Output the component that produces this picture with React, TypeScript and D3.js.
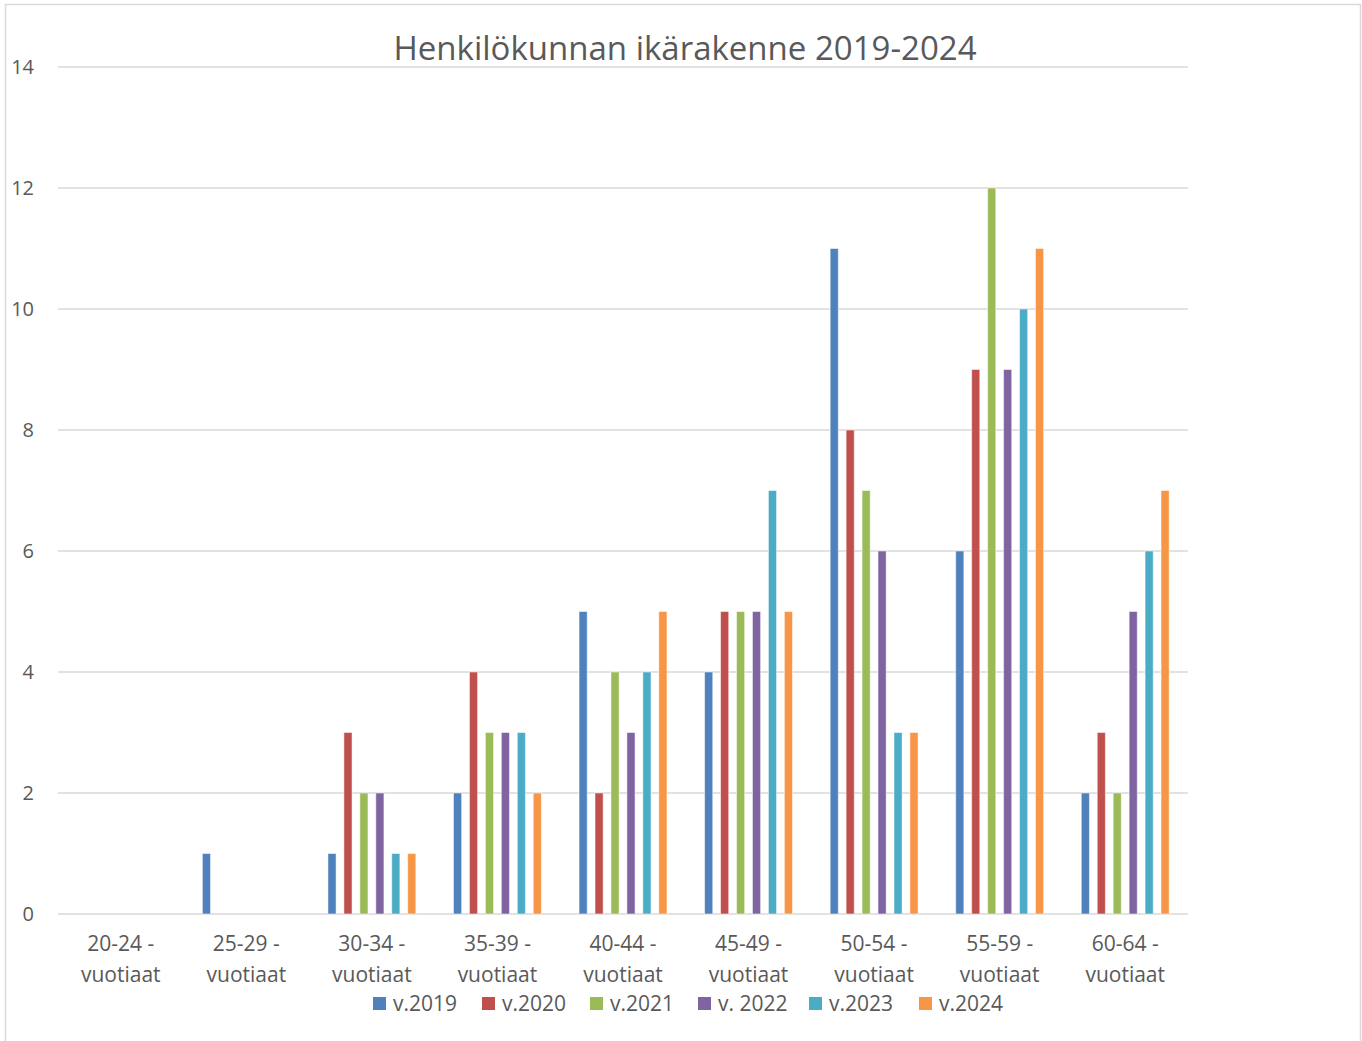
import React from 'react';
import * as d3 from 'd3';

const categories = ['20-24', '25-29', '30-34', '35-39', '40-44', '45-49', '50-54', '55-59', '60-64'];
const seriesNames = ['v.2019', 'v.2020', 'v.2021', 'v. 2022', 'v.2023', 'v.2024'];
const colors = ['#4F81BD', '#C0504D', '#9BBB59', '#8064A2', '#4BACC6', '#F79646'];

const v2019 = [0, 1, 1, 2, 5, 4, 11, 6, 2];
const v2020 = [0, 0, 3, 4, 2, 5, 8, 9, 3];
const v2021 = [0, 0, 2, 3, 4, 5, 7, 12, 2];
const v2022 = [0, 0, 2, 3, 3, 5, 6, 9, 5];
const v2023 = [0, 0, 1, 3, 4, 7, 3, 10, 6];
const v2024 = [0, 0, 1, 2, 5, 5, 3, 11, 7];
const seriesValues = [v2019, v2020, v2021, v2022, v2023, v2024];

const yTicks = [0, 2, 4, 6, 8, 10, 12, 14];

const W = 1362;
const H = 1041;
const font = '"Open Sans", sans-serif';

export default function App() {
  const x0 = d3.scaleBand<string>().domain(categories).range([58, 1188]).paddingInner(0.3).paddingOuter(0.15);
  const x1 = d3.scaleBand<string>().domain(seriesNames).range([0, x0.bandwidth()]).paddingInner(0.49).paddingOuter(0);
  const y = d3.scaleLinear().domain([0, 14]).range([914, 67]);

  // legend positions (x of square)
  const legendX = [373, 482, 590, 698, 809, 919];

  return (
    <svg width={W} height={H} style={{ position: 'absolute', left: 0, top: 0, background: '#fff' }}>
      <rect x={5.5} y={4.5} width={1355} height={1045} fill="#fff" stroke="#d9d9d9" strokeWidth={1.5} />
      <text x={685} y={60} textAnchor="middle" fontFamily={font} fontSize={33} fill="#595959">
        Henkilökunnan ikärakenne 2019-2024
      </text>
      {yTicks.map((t) => (
        <g key={t}>
          <line x1={58} x2={1188} y1={y(t)} y2={y(t)} stroke="#d9d9d9" strokeWidth={1.5} />
          <text x={34} y={y(t)} dy="0.36em" textAnchor="end" fontFamily={font} fontSize={20} fill="#595959">
            {t}
          </text>
        </g>
      ))}
      {categories.map((c, ci) => (
        <g key={c} transform={`translate(${x0(c)},0)`}>
          {seriesNames.map((s, si) => {
            const v = seriesValues[si][ci];
            if (!v) return null;
            return (
              <rect
                key={s}
                x={x1(s)}
                y={y(v)}
                width={x1.bandwidth()}
                height={y(0) - y(v)}
                fill={colors[si]}
                stroke="#ffffff"
                strokeOpacity={0.5}
                strokeWidth={1}
              />
            );
          })}
          <text x={x0.bandwidth() / 2} y={951} textAnchor="middle" fontFamily={font} fontSize={21} fill="#595959">
            {c} -
          </text>
          <text x={x0.bandwidth() / 2} y={982} textAnchor="middle" fontFamily={font} fontSize={21} fill="#595959">
            vuotiaat
          </text>
        </g>
      ))}
      {seriesNames.map((s, i) => (
        <g key={s} transform={`translate(${legendX[i]},0)`}>
          <rect x={0} y={997} width={13} height={13} fill={colors[i]} />
          <text x={20} y={1011} fontFamily={font} fontSize={21} fill="#595959">
            {s}
          </text>
        </g>
      ))}
    </svg>
  );
}
